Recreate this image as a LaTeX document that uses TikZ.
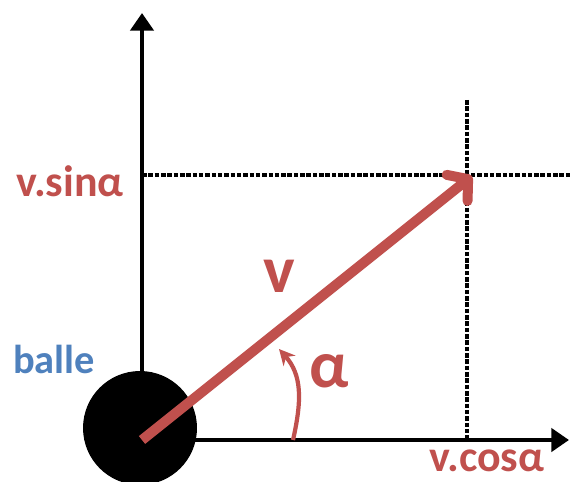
\documentclass[tikz,border=0pt]{standalone}
\usepackage{fontspec}
\setmainfont{Carlito}
\usetikzlibrary{arrows.meta}
\definecolor{vecred}{RGB}{192,80,77}
\definecolor{ballblue}{RGB}{79,129,189}

\begin{document}
\begin{tikzpicture}[
  x=0.02cm, y=-0.02cm,
  axis/.style    ={-{Triangle[length=10pt,width=13pt]}, line width=2.8pt, draw=black},
  guide/.style   ={line width=2.1pt, dash pattern=on 2.6pt off 1pt, draw=black},
  vec/.style     ={-{Straight Barb[length=8pt,width=19pt,round]}, line width=5.7pt,
                   draw=vecred},
  angarrow/.style={-{Stealth[length=9pt,width=9pt]}, line width=2.4pt, draw=vecred},
  ball/.style    ={circle, fill=black, minimum size=2.28cm, inner sep=0pt},
  comp/.style    ={anchor=base, inner sep=1pt, font=\fontsize{25}{30}\selectfont\bfseries,
                   text=vecred},
  big/.style     ={anchor=base, inner sep=1pt, font=\fontsize{38}{44}\selectfont\bfseries,
                   text=vecred},
  balletext/.style={anchor=base, inner sep=1pt, font=\fontsize{23}{28}\selectfont\bfseries,
                   text=ballblue},
]

\useasboundingbox (0,0) rectangle (570,482);

\node[ball] (balle) at (140,428) {};

\coordinate (O)    at (142,440);
\coordinate (ytop) at (142,13);
\coordinate (xend) at (569,440);
\coordinate (V)    at (472,176);
\coordinate (sy)   at (142,175);
\coordinate (sye)  at (570,175);
\coordinate (cx)   at (467,100);
\coordinate (cxb)  at (467,440);
\coordinate (a0)   at (293,440);
\coordinate (a1)   at (279,349);

\draw[guide] (sy) -- (sye);
\draw[guide] (cx) -- (cxb);

\draw[axis] (O) -- (ytop);
\draw[axis] (O) -- (xend);

\draw[vec] (O) -- (V);
\draw[angarrow] (a0) .. controls (302,400) and (302,375) .. (a1);

\node[comp] (vsin) at (70,197)  {v.sinα};
\node[comp] (vcos) at (487,471) {v.cosα};
\node[big]  (vlab) at (279,293) {v};
\node[big]  (alab) at (329,387) {α};
\node[balletext] (blab) at (54,373) {balle};

\end{tikzpicture}
\end{document}
